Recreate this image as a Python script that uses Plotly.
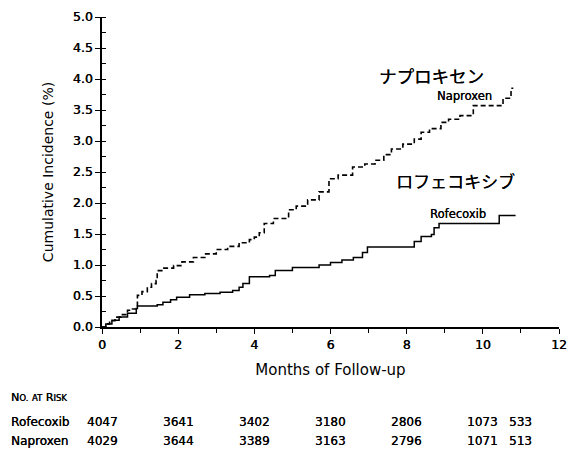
import plotly.graph_objects as go

# Naproxen cumulative incidence (%) step curve
nap_months = [0, 0.1, 0.2, 0.34, 0.5, 0.67, 0.8, 0.9, 0.93, 1.05, 1.19, 1.3, 1.42, 1.45, 1.6, 1.88,
              2.1, 2.4, 2.7, 3.0, 3.3, 3.6, 3.87, 4.0, 4.13, 4.26, 4.5, 4.9, 5.1, 5.4, 5.7, 5.96,
              6.2, 6.58, 6.9, 7.17, 7.4, 7.6, 7.9, 8.2, 8.38, 8.6, 8.9, 9.1, 9.4, 9.75, 10.45,
              10.53, 10.74, 10.8]
nap_values = [0, 0.05, 0.1, 0.16, 0.2, 0.27, 0.29, 0.32, 0.51, 0.57, 0.64, 0.7, 0.75, 0.91, 0.95, 0.99,
              1.05, 1.12, 1.18, 1.25, 1.3, 1.36, 1.41, 1.45, 1.52, 1.67, 1.75, 1.89, 1.95, 2.05, 2.18, 2.39,
              2.45, 2.58, 2.63, 2.69, 2.78, 2.87, 2.95, 3.03, 3.14, 3.2, 3.3, 3.35, 3.41, 3.57, 3.57,
              3.69, 3.85, 3.85]

# Rofecoxib cumulative incidence (%) step curve
rof_months = [0, 0.1, 0.26, 0.45, 0.67, 0.9, 0.93, 1.45, 1.6, 1.8, 1.96, 2.3, 2.7, 3.1, 3.43, 3.6,
              3.7, 3.87, 4.4, 4.55, 5.0, 5.7, 6.0, 6.3, 6.6, 6.84, 6.97, 8.13, 8.2, 8.38, 8.65,
              8.72, 8.85, 10.4, 10.43, 10.86]
rof_values = [0, 0.05, 0.11, 0.16, 0.22, 0.30, 0.34, 0.36, 0.4, 0.44, 0.48, 0.52, 0.54, 0.56, 0.59, 0.64,
              0.70, 0.81, 0.83, 0.91, 0.96, 1.0, 1.04, 1.08, 1.12, 1.2, 1.29, 1.29, 1.38, 1.46, 1.49,
              1.6, 1.67, 1.67, 1.8, 1.8]

# Number at risk table
risk_months = [0, 2, 4, 6, 8, 10, 11]
risk_rofecoxib = ["4047", "3641", "3402", "3180", "2806", "1073", "533"]
risk_naproxen = ["4029", "3644", "3389", "3163", "2796", "1071", "513"]

FONT = "DejaVu Sans, sans-serif"
JP_FONT = "Noto Sans CJK JP"
SH = "0.35px 0 0 black"

fig = go.Figure()
fig.add_trace(go.Scatter(x=nap_months, y=nap_values, mode="lines", line_shape="hv",
                         line=dict(color="black", width=1.6, dash="5px,3px"), showlegend=False))
fig.add_trace(go.Scatter(x=rof_months, y=rof_values, mode="lines", line_shape="hv",
                         line=dict(color="black", width=1.5), showlegend=False))

fig.update_layout(
    width=576, height=453,
    margin=dict(l=102, r=9, t=13, b=126),
    plot_bgcolor="white", paper_bgcolor="white",
    font=dict(family=FONT, color="black"),
    xaxis=dict(range=[0, 12], dtick=2, tick0=0, showgrid=False, zeroline=False,
               showline=True, linecolor="black", linewidth=1.5,
               ticks="outside", ticklen=5, tickwidth=1.3, tickcolor="black",
               tickfont=dict(size=12.5, family=FONT, color="black", shadow=SH),
               minor=dict(dtick=1, ticks="outside", ticklen=4, tickwidth=1.2, tickcolor="black"),
               title=dict(text="Months of Follow-up",
                          font=dict(size=15, family=FONT, color="black"), standoff=14)),
    yaxis=dict(range=[0, 5], dtick=0.5, tick0=0, showgrid=False, zeroline=False,
               showline=True, linecolor="black", linewidth=1.5,
               ticks="outside", ticklen=5, tickwidth=1.3, tickcolor="black",
               tickformat=".1f", tickfont=dict(size=12.5, family=FONT, color="black", shadow=SH),
               minor=dict(dtick=0.25, ticks="inside", ticklen=4, tickwidth=1.2, tickcolor="black"),
               title=dict(text="Cumulative Incidence (%)",
                          font=dict(size=14, family=FONT, color="black"), standoff=16)),
)

# Curve labels
fig.add_annotation(x=8.65, y=4.06, xref="x", yref="y", text="ナプロキセン", showarrow=False,
                   font=dict(size=17.5, family=JP_FONT, color="black", shadow=SH))
fig.add_annotation(x=9.52, y=3.73, xref="x", yref="y", text="Naproxen", showarrow=False,
                   font=dict(size=11.5, family=FONT, color="black", shadow=SH))
fig.add_annotation(x=9.27, y=2.37, xref="x", yref="y", text="ロフェコキシブ", showarrow=False,
                   font=dict(size=17, family=JP_FONT, color="black", shadow=SH))
fig.add_annotation(x=9.35, y=1.83, xref="x", yref="y", text="Rofecoxib", showarrow=False,
                   font=dict(size=11.5, family=FONT, color="black", shadow=SH))

# No. at risk table
def py(px):
    return (327 - px) / 314.0

def pxx(px):
    return (px - 102) / 465.0

fig.add_annotation(x=pxx(7), y=py(398), xref="paper", yref="paper", xanchor="left", yanchor="middle",
                   text="N<span style='font-size:8.5px'>O.</span> <span style='font-size:8.5px'>AT</span> R<span style='font-size:8.5px'>ISK</span>",
                   showarrow=False, font=dict(size=11, family=FONT, color="black", shadow=SH))
for name, row, ypx in [("Rofecoxib", risk_rofecoxib, 423), ("Naproxen", risk_naproxen, 442)]:
    fig.add_annotation(x=pxx(7), y=py(ypx), xref="paper", yref="paper", xanchor="left", yanchor="middle",
                       text=name, showarrow=False, font=dict(size=12, family=FONT, color="black", shadow=SH))
    for m, val in zip(risk_months, row):
        fig.add_annotation(x=m, y=py(ypx), xref="x", yref="paper", xanchor="center", yanchor="middle",
                           text=val, showarrow=False, font=dict(size=12, family=FONT, color="black", shadow=SH))

fig.write_html("out.html")
